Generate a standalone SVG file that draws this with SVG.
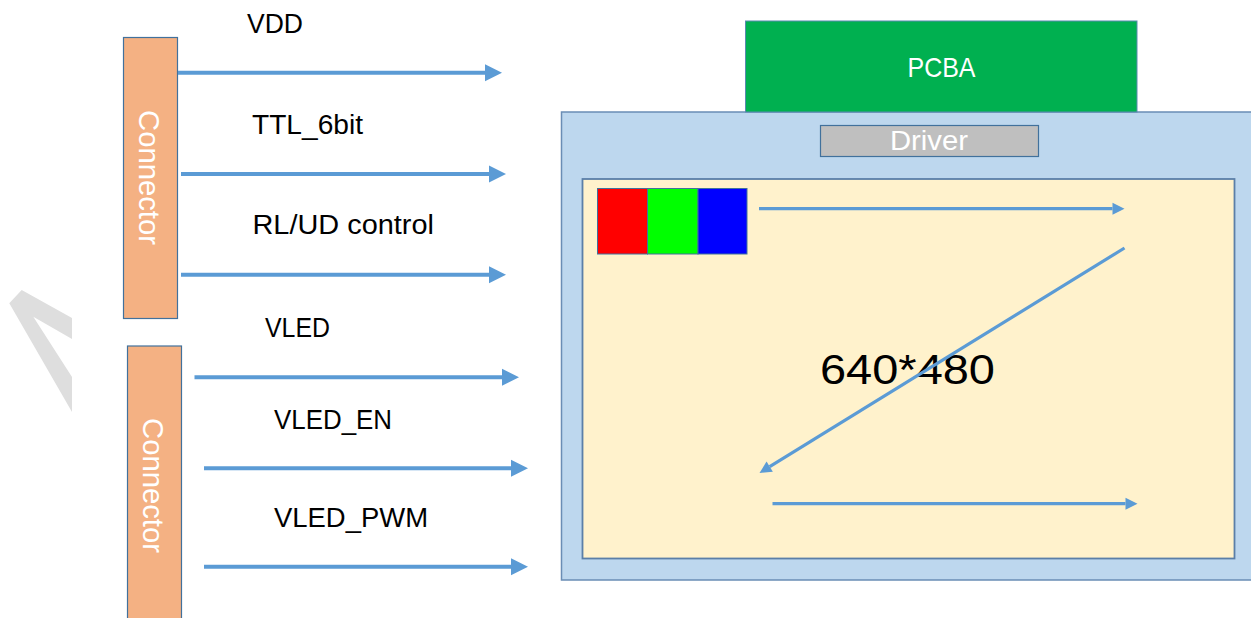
<svg xmlns="http://www.w3.org/2000/svg" width="1251" height="618" viewBox="0 0 1251 618">
<style>
.lbl{font-family:"Liberation Sans",Arial,sans-serif;font-size:27px;fill:#000}
.conn{fill:#F4B183;stroke:#41719C;stroke-width:1.2}
.ctext{font-family:"Liberation Sans",Arial,sans-serif;font-size:29px;fill:#fff}
.wtext{font-family:"Liberation Sans",Arial,sans-serif;font-size:28px;fill:#fff}
.big{stroke:#5B9BD5;stroke-width:4;fill:none}
.small{stroke:#5B9BD5;stroke-width:3.2;fill:none}
</style>
<defs>
<marker id="ah" markerUnits="userSpaceOnUse" markerWidth="17" markerHeight="17" viewBox="0 0 17 17" refX="0" refY="8.5" orient="auto" overflow="visible">
<path d="M0,0 L17,8.5 L0,17 z" fill="#5B9BD5"/>
</marker>
<marker id="ahs" markerUnits="userSpaceOnUse" markerWidth="12" markerHeight="12" viewBox="0 0 12 12" refX="0" refY="6" orient="auto" overflow="visible">
<path d="M0,0 L12,6 L0,12 z" fill="#5B9BD5"/>
</marker>
</defs>
<rect width="1251" height="618" fill="#fff"/>
<polygon id="watermark" points="9.3,303.3 21.7,290 72,318 72,339 33.3,316.7 72,377 72,412" fill="#DEDEDE"/>

<g id="connector1">
<rect class="conn" x="123.5" y="37.5" width="54" height="281"/>
<text class="ctext" transform="translate(139,177.5) rotate(90)" text-anchor="middle" textLength="135" lengthAdjust="spacingAndGlyphs">Connector</text>
</g>
<g id="connector2">
<rect class="conn" x="127.5" y="346" width="54" height="280"/>
<text class="ctext" transform="translate(142.5,485.5) rotate(90)" text-anchor="middle" textLength="135" lengthAdjust="spacingAndGlyphs">Connector</text>
</g>

<g id="labels">
<text class="lbl" x="247" y="33" textLength="56" lengthAdjust="spacingAndGlyphs">VDD</text>
<text class="lbl" x="252" y="134" textLength="111" lengthAdjust="spacingAndGlyphs">TTL_6bit</text>
<text class="lbl" x="252.5" y="234" textLength="181.5" lengthAdjust="spacingAndGlyphs">RL/UD control</text>
<text class="lbl" x="265" y="337" textLength="65" lengthAdjust="spacingAndGlyphs">VLED</text>
<text class="lbl" x="274" y="429" textLength="118" lengthAdjust="spacingAndGlyphs">VLED_EN</text>
<text class="lbl" x="274" y="527" textLength="154" lengthAdjust="spacingAndGlyphs">VLED_PWM</text>
</g>

<g id="panel">
<rect x="561.5" y="112" width="700" height="468" fill="#BDD7EE" stroke="#6A8DB5" stroke-width="1.5"/>
</g>
<g id="pcba">
<rect x="745.5" y="21" width="391.5" height="91" fill="#00B050" stroke="#5A8AB0" stroke-width="1"/>
<text class="wtext" x="941.5" y="77" text-anchor="middle" textLength="68" lengthAdjust="spacingAndGlyphs">PCBA</text>
</g>
<g id="driver">
<rect x="820.5" y="125.5" width="218" height="31" fill="#BFBFBF" stroke="#41719C" stroke-width="1.2"/>
<text class="wtext" x="929" y="150" text-anchor="middle" textLength="78" lengthAdjust="spacingAndGlyphs">Driver</text>
</g>
<g id="display">
<rect x="582.5" y="179" width="652" height="379.5" fill="#FFF2CC" stroke="#5B7FA8" stroke-width="1.8"/>
<text x="820" y="383.5" font-family="Liberation Sans,Arial,sans-serif" font-size="42" fill="#000" textLength="175" lengthAdjust="spacingAndGlyphs">640*480</text>
</g>
<g id="pixel">
<rect x="597.5" y="188.5" width="50" height="65.5" fill="#FF0000" stroke="#41719C" stroke-width="1"/>
<rect x="647.5" y="188.5" width="50.5" height="65.5" fill="#00FF00" stroke="#41719C" stroke-width="1"/>
<rect x="698" y="188.5" width="49" height="65.5" fill="#0000FF" stroke="#41719C" stroke-width="1"/>
</g>

<g id="connectors">
<line class="big" x1="178" y1="72.7" x2="485" y2="72.7" marker-end="url(#ah)"/>
<line class="big" x1="181" y1="174" x2="489" y2="174" marker-end="url(#ah)"/>
<line class="big" x1="181" y1="274.7" x2="489" y2="274.7" marker-end="url(#ah)"/>
<line class="big" x1="194.5" y1="377.3" x2="502" y2="377.3" marker-end="url(#ah)"/>
<line class="big" x1="204" y1="468.3" x2="511" y2="468.3" marker-end="url(#ah)"/>
<line class="big" x1="204" y1="566.7" x2="511" y2="566.7" marker-end="url(#ah)"/>
<line class="small" x1="759" y1="208.7" x2="1112.5" y2="208.7" marker-end="url(#ahs)"/>
<line class="small" x1="1124.5" y1="248" x2="769.7" y2="466.7" marker-end="url(#ahs)"/>
<line class="small" x1="772.5" y1="503.7" x2="1125.5" y2="503.7" marker-end="url(#ahs)"/>
</g>
</svg>
